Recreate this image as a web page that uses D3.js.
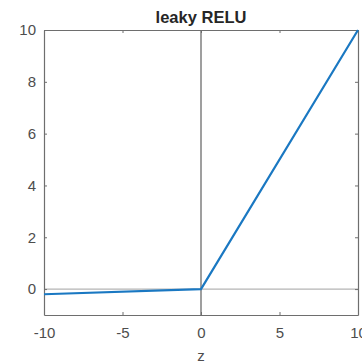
<!DOCTYPE html>
<html>
<head>
<meta charset="utf-8">
<script src="https://cdn.jsdelivr.net/npm/d3@7"></script>
<style>
  html, body { margin: 0; padding: 0; background: #fff; overflow: hidden; }
  svg { display: block; font-family: "Liberation Sans", Arial, Helvetica, sans-serif; }
</style>
</head>
<body>
<svg id="chart" width="362" height="364"></svg>
<script>
// Leaky ReLU: a = max(0.02 z, z)
const zValues = [-10, 0, 10];
const aValues = [-0.2, 0, 10];
const xTicks = [-10, -5, 0, 5, 10];
const yTicks = [0, 2, 4, 6, 8, 10];
const title = "leaky RELU";
const xLabel = "z";

const svg = d3.select("#chart");
const margin = { left: 44, right: 4, top: 30, bottom: 49 };
const W = 362, H = 364;
const x = d3.scaleLinear().domain([-10, 10]).range([margin.left, W - margin.right]);
const y = d3.scaleLinear().domain([-1, 10]).range([H - margin.bottom, margin.top]);

const x0 = x.range()[0], x1 = x.range()[1];
const y0 = y.range()[0], y1 = y.range()[1];

// Plain hyphen for negative numbers
const fmt = d => String(d);

// Reference lines through the origin
svg.append("line")
  .attr("x1", x0).attr("x2", x1)
  .attr("y1", y(0)).attr("y2", y(0))
  .attr("stroke", "#b4b4b4").attr("stroke-width", 1.3);
svg.append("line")
  .attr("x1", x(0)).attr("x2", x(0))
  .attr("y1", y0).attr("y2", y1)
  .attr("stroke", "#505050").attr("stroke-width", 1.1);

// Axes with inward ticks on all four sides
const tickColor = "#4d4d4d";
function styleAxis(g) {
  g.select(".domain").attr("stroke", "#6e6e6e").attr("stroke-width", 1.2);
  g.selectAll(".tick line").attr("stroke", "#6e6e6e").attr("stroke-width", 1);
  g.selectAll(".tick text").attr("fill", tickColor).attr("font-size", 15);
}
const axisB = svg.append("g").attr("transform", `translate(0,${y0})`)
  .call(d3.axisBottom(x).tickValues(xTicks).tickSizeInner(-3).tickSizeOuter(0).tickPadding(12).tickFormat(fmt));
styleAxis(axisB);
const axisT = svg.append("g").attr("transform", `translate(0,${y1})`)
  .call(d3.axisTop(x).tickValues(xTicks).tickSizeInner(-3).tickSizeOuter(0).tickFormat(""));
styleAxis(axisT);
const axisL = svg.append("g").attr("transform", `translate(${x0},0)`)
  .call(d3.axisLeft(y).tickValues(yTicks).tickSizeInner(-3).tickSizeOuter(0).tickPadding(8).tickFormat(fmt));
styleAxis(axisL);
const axisR = svg.append("g").attr("transform", `translate(${x1},0)`)
  .call(d3.axisRight(y).tickValues(yTicks).tickSizeInner(-3).tickSizeOuter(0).tickFormat(""));
styleAxis(axisR);

// Activation curve
const pts = zValues.map((z, i) => [z, aValues[i]]);
svg.append("path")
  .datum(pts)
  .attr("fill", "none")
  .attr("stroke", "#1a78c2")
  .attr("stroke-width", 2.2)
  .attr("stroke-linejoin", "round")
  .attr("d", d3.line().x(d => x(d[0])).y(d => y(d[1])));

// Title and axis label
svg.append("text")
  .attr("x", (x0 + x1) / 2).attr("y", 23)
  .attr("text-anchor", "middle")
  .attr("font-size", 16.5).attr("font-weight", "bold").attr("fill", "#262626")
  .text(title);
svg.append("text")
  .attr("x", (x0 + x1) / 2).attr("y", 361)
  .attr("text-anchor", "middle")
  .attr("font-size", 15).attr("fill", tickColor)
  .text(xLabel);
</script>
</body>
</html>
